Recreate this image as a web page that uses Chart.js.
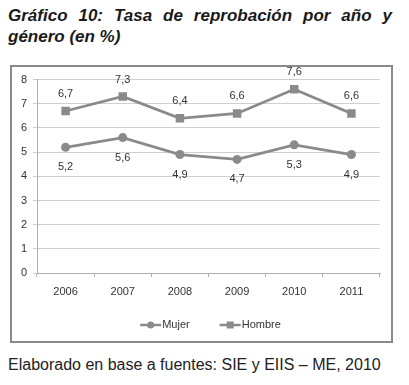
<!DOCTYPE html>
<html lang="es">
<head>
    <meta charset="UTF-8">
    <title>Tasa de reprobación</title>
    <script src="https://cdn.jsdelivr.net/npm/chart.js"></script>
    <style>
        body {
            margin: 0;
            background: #fff;
            font-family: "Liberation Sans", Arial, sans-serif;
        }
        .title {
            position: absolute;
            top: 5px;
            left: 8px;
            width: 384px;
            font-size: 17px;
            line-height: 21px;
            font-weight: bold;
            font-style: italic;
            color: #1a1a1a;
        }
        .title .l1 {
            text-align: justify;
            text-align-last: justify;
        }
        .chartBox {
            position: absolute;
            left: 10px;
            top: 65px;
            width: 379px;
            height: 274px;
            border: 2px solid #8a8a8a;
        }
        .footer {
            position: absolute;
            left: 8px;
            top: 356px;
            font-size: 16px;
            color: #222;
        }
    </style>
</head>
<body>
    <div class="title">
        <div class="l1">Gráfico 10: Tasa de reprobación por año y</div>
        <div>género (en %)</div>
    </div>
    <div class="chartBox">
        <canvas id="lineChart"></canvas>
    </div>
    <div class="footer">Elaborado en base a fuentes: SIE y EIIS – ME, 2010</div>

    <script>
        const years = ['2006', '2007', '2008', '2009', '2010', '2011'];
        const mujer = [5.2, 5.6, 4.9, 4.7, 5.3, 4.9];
        const hombre = [6.7, 7.3, 6.4, 6.6, 7.6, 6.6];
        const yTicks = [0, 1, 2, 3, 4, 5, 6, 7, 8];

        const lineColor = '#8a8a8a';
        const fontFam = '"Liberation Sans", Arial, sans-serif';

        // value next to each point: Hombre above, Mujer below
        const valueLabels = {
            id: 'valueLabels',
            afterDatasetsDraw(chart) {
                let ctx = chart.ctx;
                ctx.save();
                ctx.font = '11px ' + fontFam;
                ctx.fillStyle = '#333';
                ctx.textAlign = 'center';
                ctx.textBaseline = 'middle';
                chart.data.datasets.forEach((ds, i) => {
                    let meta = chart.getDatasetMeta(i);
                    meta.data.forEach((pt, j) => {
                        let txt = ds.data[j].toFixed(1).replace('.', ',');
                        let dy = ds.label === 'Hombre' ? -17 : 20;
                        ctx.fillText(txt, pt.x, pt.y + dy);
                    });
                });
                ctx.restore();
            }
        };

        // legend drawn by hand: line with marker, then the name
        const lineLegend = {
            id: 'lineLegend',
            afterDraw(chart) {
                let ctx = chart.ctx;
                let area = chart.chartArea;
                let y = chart.scales.x.bottom + 18;
                let iconW = 21, gapText = 1, gapItem = 30;
                ctx.save();
                ctx.font = '11px ' + fontFam;
                let items = chart.data.datasets.map(ds => ({
                    ds: ds,
                    w: iconW + gapText + ctx.measureText(ds.label).width
                }));
                let total = items.reduce((s, it) => s + it.w, 0) + gapItem * (items.length - 1);
                let x = (area.left + area.right) / 2 - total / 2 + 2;
                items.forEach(it => {
                    ctx.strokeStyle = lineColor;
                    ctx.fillStyle = lineColor;
                    ctx.lineWidth = 2.5;
                    ctx.beginPath();
                    ctx.moveTo(x, y);
                    ctx.lineTo(x + iconW, y);
                    ctx.stroke();
                    ctx.beginPath();
                    if (it.ds.pointStyle === 'circle') {
                        ctx.arc(x + iconW / 2, y, 3.5, 0, Math.PI * 2);
                    } else {
                        ctx.rect(x + iconW / 2 - 3.5, y - 3.5, 7, 7);
                    }
                    ctx.fill();
                    ctx.fillStyle = '#333';
                    ctx.textAlign = 'left';
                    ctx.textBaseline = 'middle';
                    ctx.fillText(it.ds.label, x + iconW + gapText, y);
                    x += it.w + gapItem;
                });
                ctx.restore();
            }
        };

        new Chart(document.getElementById('lineChart'), {
            type: 'line',
            data: {
                labels: years,
                datasets: [{
                    label: 'Mujer',
                    data: mujer,
                    borderColor: lineColor,
                    backgroundColor: lineColor,
                    borderWidth: 2.75,
                    pointStyle: 'circle',
                    pointRadius: 4.5,
                    pointBorderWidth: 0,
                    tension: 0
                }, {
                    label: 'Hombre',
                    data: hombre,
                    borderColor: lineColor,
                    backgroundColor: lineColor,
                    borderWidth: 2.75,
                    pointStyle: 'rect',
                    pointRadius: 6,
                    pointBorderWidth: 0,
                    tension: 0
                }]
            },
            options: {
                responsive: true,
                maintainAspectRatio: false,
                animation: false,
                layout: {
                    padding: { left: 0, right: 11, top: 6, bottom: 34 }
                },
                plugins: {
                    tooltip: { enabled: false },
                    legend: { display: false }
                },
                scales: {
                    x: {
                        offset: true,
                        grid: {
                            offset: true,
                            drawOnChartArea: false,
                            tickLength: 4,
                            color: '#b0b0b0'
                        },
                        border: { color: '#b0b0b0' },
                        ticks: {
                            padding: 8,
                            color: '#333',
                            font: { family: fontFam, size: 11 }
                        },
                        afterFit: s => { s.height = 34; }
                    },
                    y: {
                        min: yTicks[0],
                        max: yTicks[yTicks.length - 1],
                        afterBuildTicks: s => { s.ticks = yTicks.map(v => ({ value: v })); },
                        grid: {
                            color: '#cfcfcf',
                            tickLength: 4
                        },
                        border: { color: '#b0b0b0' },
                        ticks: {
                            padding: 6,
                            color: '#333',
                            font: { family: fontFam, size: 11 }
                        },
                        afterFit: s => { s.width = 25; }
                    }
                }
            },
            plugins: [valueLabels, lineLegend]
        });
    </script>
</body>
</html>
